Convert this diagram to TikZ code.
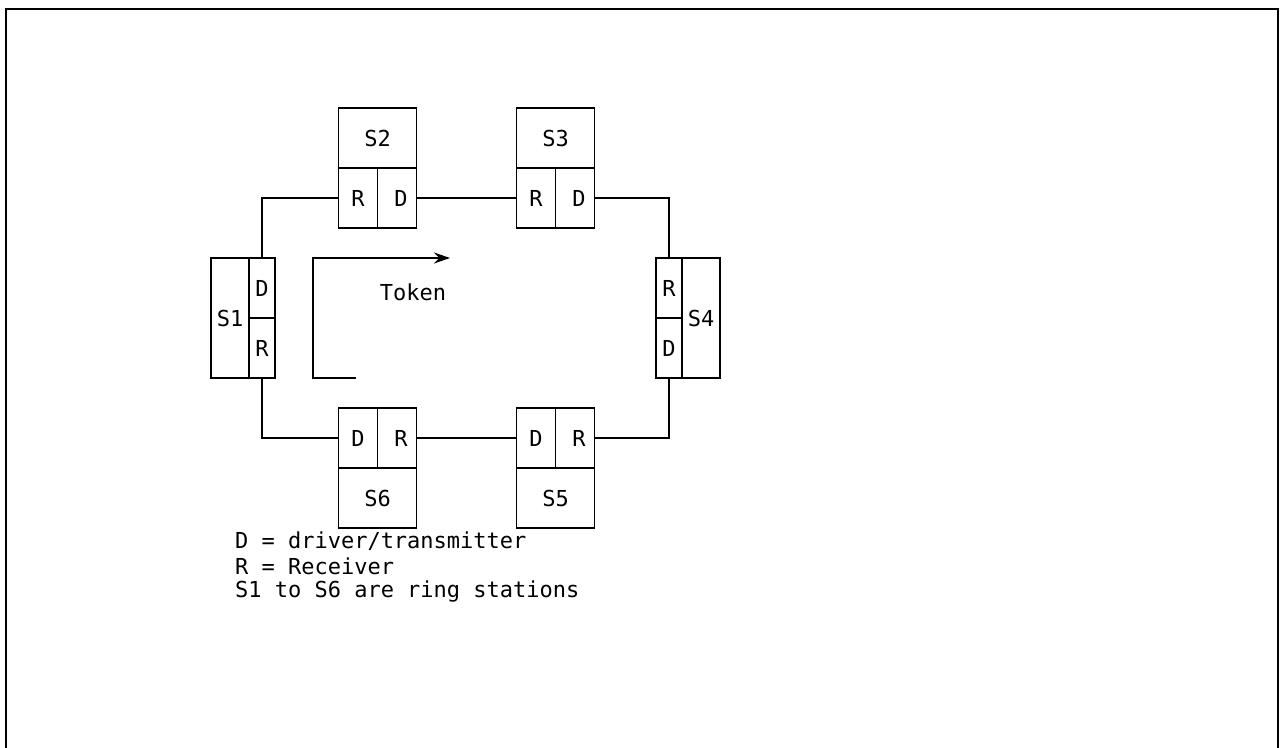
\documentclass[tikz,border=0pt]{standalone}
\usepackage{fontspec}
\setmonofont{DejaVu Sans Mono}
\usetikzlibrary{arrows.meta}

\begin{document}
\begin{tikzpicture}[x=0.5pt, y=-0.5pt,
  every node/.style={font=\ttfamily\fontsize{11}{13}\selectfont},
  part/.style={draw, line width=0.8pt, inner sep=0pt, minimum width=19.5pt, minimum height=30pt},
  side/.style={draw, line width=0.8pt, inner sep=0pt, minimum width=12.75pt, minimum height=30pt},
  body/.style={draw, line width=0.8pt, inner sep=0pt, minimum width=39pt, minimum height=30pt},
  tall/.style={draw, line width=0.8pt, inner sep=0pt, minimum width=19.25pt, minimum height=60pt},
  wire/.style={line width=0.8pt}]
  \useasboundingbox (0,0) rectangle (1286,748);
  % Outer frame.
  \draw[line width=1.1pt] (6,770) -- (6,9) -- (1278,9) -- (1278,770);
  % Ring stations: top row S2, S3.
  \node[body] (s2)  at (377.5,138) {S2};
  \node[part] (s2r) at (358,198)   {R\hspace{4pt}};
  \node[part] (s2d) at (397,198)   {\hspace{4pt}D};
  \node[body] (s3)  at (555.5,138) {S3};
  \node[part] (s3r) at (536,198)   {R\hspace{4pt}};
  \node[part] (s3d) at (575,198)   {\hspace{4pt}D};
  % Left S1 and right S4 (on their side).
  \node[tall] (s1)  at (230,318)   {S1};
  \node[side] (s1d) at (262,288)   {D};
  \node[side] (s1r) at (262,348)   {R};
  \node[side] (s4r) at (669,288)   {R};
  \node[side] (s4d) at (669,348)   {D};
  \node[tall] (s4)  at (701,318)   {S4};
  % Bottom row S6, S5.
  \node[part] (s6d) at (358,438)   {D\hspace{4pt}};
  \node[part] (s6r) at (397,438)   {\hspace{4pt}R};
  \node[body] (s6)  at (377.5,498) {S6};
  \node[part] (s5d) at (536,438)   {D\hspace{4pt}};
  \node[part] (s5r) at (575,438)   {\hspace{4pt}R};
  \node[body] (s5)  at (555.5,498) {S5};
  % Ring wiring, D of one station to R of the next.
  \draw[wire] (s1d.north) |- (s2r.west);
  \draw[wire] (s2d.east) -- (s3r.west);
  \draw[wire] (s3d.east) -| (s4r.north);
  \draw[wire] (s4d.south) |- (s5r.east);
  \draw[wire] (s5d.west) -- (s6r.east);
  \draw[wire] (s6d.west) -| (s1r.south);
  % Token direction.
  \coordinate (tokstart) at (356,378);
  \coordinate (tokend)   at (450,258);
  \draw[wire, -{Stealth[length=8pt, width=5.5pt]}]
    (tokstart) -- (313,378) -- (313,258) -- (tokend);
  \node (token) at (413,292) {Token};
  % Legend.
  \node[anchor=west] (keyd) at (228,541) {D = driver/transmitter};
  \node[anchor=west] (keyr) at (228,566) {R = Receiver};
  \node[anchor=west] (keys) at (228,592) {S1 to S6 are ring stations};
\end{tikzpicture}
\end{document}
